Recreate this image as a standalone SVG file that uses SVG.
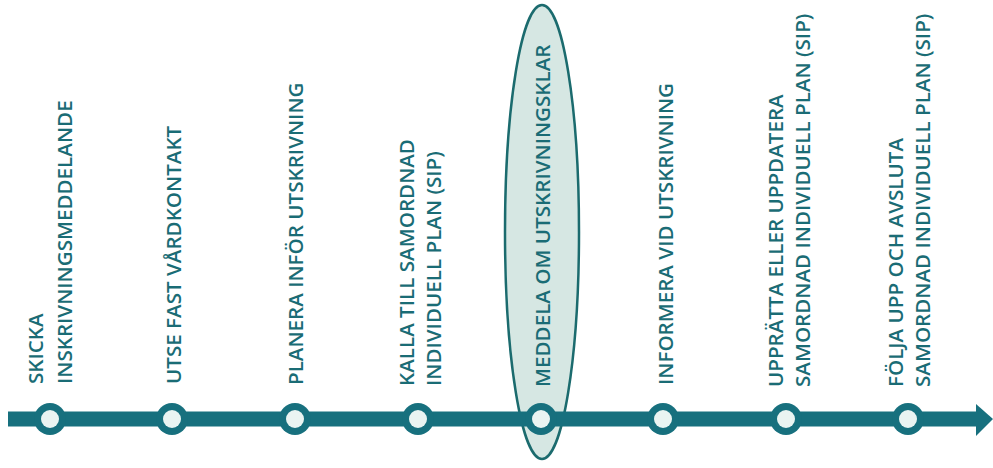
<svg xmlns="http://www.w3.org/2000/svg" width="993" height="468" viewBox="0 0 993 468">
  <style>
    .lbl { font-family: "Open Sans", "Liberation Sans", sans-serif; font-weight: 600; font-size: 20.6px; fill: #1a6c75; }
    .dot-o { fill: #17707e; }
    .dot-i { fill: #eaf4f2; }
    .bar { fill: #17707e; }
    .hl { fill: #d6e7e3; stroke: #1b6b6e; stroke-width: 2.5; }
  </style>
  <rect width="993" height="468" fill="#ffffff"/>
  <g id="highlight">
    <ellipse class="hl" cx="542" cy="232" rx="37" ry="227"/>
  </g>
  <g id="connectors">
    <rect class="bar" x="8" y="411.5" width="970" height="15"/>
    <polygon class="bar" points="976,404 993,419 976,436"/>
  </g>
  <g id="node1">
    <circle class="dot-o" cx="50" cy="419" r="16"/><circle class="dot-i" cx="50" cy="419" r="9"/>
    <text class="lbl" transform="translate(43,384) rotate(-90)">SKICKA</text>
    <text class="lbl" transform="translate(72,384) rotate(-90)">INSKRIVNINGSMEDDELANDE</text>
  </g>
  <g id="node2">
    <circle class="dot-o" cx="172" cy="419" r="16"/><circle class="dot-i" cx="172" cy="419" r="9"/>
    <text class="lbl" transform="translate(181,384) rotate(-90)">UTSE FAST VÅRDKONTAKT</text>
  </g>
  <g id="node3">
    <circle class="dot-o" cx="295" cy="419" r="16"/><circle class="dot-i" cx="295" cy="419" r="9"/>
    <text class="lbl" transform="translate(303,385) rotate(-90)">PLANERA INFÖR UTSKRIVNING</text>
  </g>
  <g id="node4">
    <circle class="dot-o" cx="418" cy="419" r="16"/><circle class="dot-i" cx="418" cy="419" r="9"/>
    <text class="lbl" transform="translate(414,386) rotate(-90)">KALLA TILL SAMORDNAD</text>
    <text class="lbl" transform="translate(441,386) rotate(-90)">INDIVIDUELL PLAN (SIP)</text>
  </g>
  <g id="node5">
    <circle class="dot-o" cx="541" cy="419" r="16"/><circle class="dot-i" cx="541" cy="419" r="9"/>
    <text class="lbl" transform="translate(550,387) rotate(-90)">MEDDELA OM UTSKRIVNINGSKLAR</text>
  </g>
  <g id="node6">
    <circle class="dot-o" cx="663" cy="419" r="16"/><circle class="dot-i" cx="663" cy="419" r="9"/>
    <text class="lbl" transform="translate(673,385) rotate(-90)">INFORMERA VID UTSKRIVNING</text>
  </g>
  <g id="node7">
    <circle class="dot-o" cx="786" cy="419" r="16"/><circle class="dot-i" cx="786" cy="419" r="9"/>
    <text class="lbl" transform="translate(783,387) rotate(-90)">UPPRÄTTA ELLER UPPDATERA</text>
    <text class="lbl" transform="translate(810,387) rotate(-90)">SAMORDNAD INDIVIDUELL PLAN (SIP)</text>
  </g>
  <g id="node8">
    <circle class="dot-o" cx="908" cy="419" r="16"/><circle class="dot-i" cx="908" cy="419" r="9"/>
    <text class="lbl" transform="translate(903,387) rotate(-90)">FÖLJA UPP OCH AVSLUTA</text>
    <text class="lbl" transform="translate(930,387) rotate(-90)">SAMORDNAD INDIVIDUELL PLAN (SIP)</text>
  </g>
</svg>
